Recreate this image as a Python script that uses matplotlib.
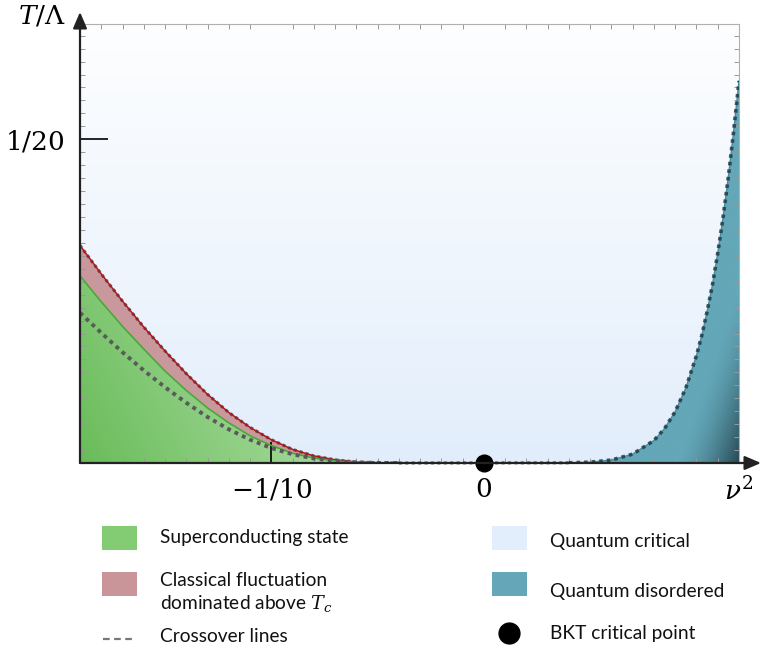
import numpy as np
import matplotlib
matplotlib.use("Agg")
import matplotlib.pyplot as plt
from matplotlib.patches import Rectangle
from matplotlib.lines import Line2D
from matplotlib.colors import to_rgb

plt.rcParams["mathtext.fontset"] = "dejavuserif"
plt.rcParams["font.family"] = ["Lato", "DejaVu Sans"]

# Phase boundaries, T/Lambda against nu^2
nu_left = [-0.19, -0.18, -0.17, -0.16, -0.15, -0.14, -0.13, -0.12,
           -0.11, -0.10, -0.09, -0.08, -0.07, -0.06, -0.05, -0.04]
t_classical = [0.0336, 0.0292, 0.0250, 0.0210, 0.0173, 0.0138, 0.0106, 0.0078,
               0.0055, 0.0036, 0.0021, 0.0011, 0.0005, 0.00015, 0.00003, 0.0]
t_sc = [0.0289, 0.0249, 0.0211, 0.0176, 0.0142, 0.0112, 0.0085, 0.0062,
        0.0042, 0.0027, 0.0015, 0.00076, 0.00031, 0.00009, 0.00002, 0.0]
t_cross_sc = [0.0232, 0.0201, 0.0171, 0.0143, 0.0117, 0.0093, 0.0071, 0.0052,
              0.0036, 0.0023, 0.00135, 0.00069, 0.00029, 0.00009, 0.00002, 0.0]

nu_right = [0.04, 0.05, 0.06, 0.07, 0.08, 0.085, 0.09, 0.095, 0.10,
            0.1025, 0.105, 0.1075, 0.11, 0.1125, 0.115, 0.1175, 0.12]
t_disordered = [0.00003, 0.00013, 0.00046, 0.00137, 0.00348, 0.00532, 0.00794,
                0.0116, 0.0166, 0.0197, 0.0234, 0.0275, 0.0324, 0.0379,
                0.0442, 0.0513, 0.0590]

bkt_nu, bkt_t = 0.0, 0.0

x_ticks = [-0.1, 0.0, 0.12]
x_ticklabels = [r"$-1/10$", r"$0$", r"$\nu^2$"]
y_ticks = [0.05]
y_ticklabels = [r"$1/20$"]

XMIN, XMAX, YMAX = -0.19, 0.12, 0.0678

W, H = 762, 654
fig = plt.figure(figsize=(W / 100, H / 100), dpi=100)
ax = fig.add_axes([80 / W, 191 / H, 659 / W, 439 / H])


def mix(c1, c2, t):
    c1, c2 = np.array(to_rgb(c1)), np.array(to_rgb(c2))
    return c1 + (c2 - c1) * t[..., None]


# quantum critical background: white at the top, pale blue at the bottom
gy = np.linspace(0, 1, 200)[:, None] * np.ones((1, 4))
ax.imshow(mix("#e1edfb", "#fdfeff", gy ** 0.9), extent=[XMIN, XMAX, 0, YMAX],
          origin="lower", aspect="auto", zorder=0)

# superconducting region with a diagonal green shade
gx, gt = np.meshgrid(np.linspace(XMIN, -0.03, 300), np.linspace(0, 0.035, 200))
shade = np.clip(0.75 * (gx - XMIN) / 0.10 + 0.35 * gt / 0.03, 0, 1)
sc_poly = ax.fill_between(nu_left, 0, t_sc, facecolor="none", edgecolor="none")
im = ax.imshow(mix("#69bc59", "#acdda3", shade), extent=[XMIN, -0.03, 0, 0.035],
               origin="lower", aspect="auto", zorder=1, interpolation="bilinear")
im.set_clip_path(sc_poly.get_paths()[0], transform=ax.transData)

# classical fluctuation band above T_c
ax.fill_between(nu_left, t_sc, t_classical, facecolor="#c9989c",
                edgecolor="none", zorder=1)

# quantum disordered region, darkening towards the corner
dx, dt = np.meshgrid(np.linspace(0.03, XMAX, 300), np.linspace(0, 0.06, 300))
dark = np.clip((dx - 0.090) / 0.030 - dt / 0.028, 0, 1) ** 1.6
qd_poly = ax.fill_between(nu_right, 0, t_disordered, facecolor="none", edgecolor="none")
im2 = ax.imshow(mix("#63a7b8", "#1f3c47", dark * 0.9), extent=[0.03, XMAX, 0, 0.06],
                origin="lower", aspect="auto", zorder=1, interpolation="bilinear")
im2.set_clip_path(qd_poly.get_paths()[0], transform=ax.transData)

# boundary lines
ax.plot(nu_left, t_classical, color="#333333", lw=2.2, ls=(0, (1, 1)), alpha=0.75, zorder=3)
ax.plot(nu_left, t_classical, color="#b3141a", lw=1.1, zorder=4)
ax.plot(nu_left, t_sc, color="#4aa838", lw=1.2, zorder=4)
ax.plot(nu_left, t_cross_sc, color="#5a5a5a", lw=2.8, ls=(0, (1, 1.1)), zorder=4)
ax.plot([nu_left[-1], nu_right[0]], [t_cross_sc[-1], t_disordered[0]],
        color="#5a5a5a", lw=2.2, ls=(0, (1, 1.1)), zorder=4, clip_on=False)
ax.plot(nu_right, t_disordered, color="#3d8fa5", lw=1.0, zorder=4)
ax.plot(nu_right, t_disordered, color="#263a42", lw=2.6, ls=(0, (1, 1.1)),
        alpha=0.85, zorder=5)

# BKT critical point
ax.plot([bkt_nu], [bkt_t], "o", color="black", ms=12, zorder=10, clip_on=False)

ax.set_xlim(XMIN, XMAX)
ax.set_ylim(0, YMAX)

# frame: light top/right, axes drawn as arrows
for side in ("top", "right"):
    ax.spines[side].set_color("#b0b0b0")
    ax.spines[side].set_linewidth(0.8)
for side in ("bottom", "left"):
    ax.spines[side].set_visible(False)
arrow = dict(arrowstyle="-|>,head_length=0.7,head_width=0.3", color="#222222",
             lw=1.6, mutation_scale=14, shrinkA=0, shrinkB=0)
ax.annotate("", xy=((W - 1 - 80) / 659, 0), xytext=(0, 0), xycoords="axes fraction",
            arrowprops=arrow, annotation_clip=False, zorder=12)
ax.annotate("", xy=(0, (463 - 12) / 439), xytext=(0, 0), xycoords="axes fraction",
            arrowprops=arrow, annotation_clip=False, zorder=12)

ax.set_xticks(x_ticks, labels=x_ticklabels)
ax.set_xticks(np.arange(-19, 13) / 100, minor=True)
ax.set_yticks(y_ticks, labels=y_ticklabels)
ax.set_yticks(np.arange(1, 34) * 0.002, minor=True)
ax.tick_params(axis="x", which="major", direction="in", length=15, width=1.2,
               color="black", pad=10, labelsize=19)
ax.tick_params(axis="y", which="major", direction="in", length=20, width=1.2,
               color="black", pad=11, labelsize=19)
ax.tick_params(which="minor", direction="in", length=3.5, width=0.7, color="#999999",
               top=True, right=True)
for tk in ax.xaxis.get_major_ticks()[1:]:
    tk.tick1line.set_visible(False)

fig.text(42 / W, 1 - 16 / H, r"$T/\Lambda$", fontsize=19, ha="center", va="center")

# legend drawn in pixel coordinates below the diagram
lg = fig.add_axes([0, 0, 1, 1], zorder=-1)
lg.set_xlim(0, W)
lg.set_ylim(H, 0)
lg.axis("off")

def swatch(x, y, color):
    lg.add_patch(Rectangle((x, y), 35, 24, facecolor=color, edgecolor="none"))

fs = 13.8
swatch(102, 526, "#84cc74")
lg.text(160, 537, "Superconducting state", fontsize=fs, va="center", color="#111111")
swatch(102, 572, "#c99599")
lg.text(160, 580, "Classical fluctuation", fontsize=fs, va="center", color="#111111")
lg.text(160, 604, r"dominated above $T_c$", fontsize=fs, va="center", color="#111111")
lg.add_line(Line2D([103, 136], [639, 639], color="#777777", lw=1.6, ls=(0, (3, 2))))
lg.text(160, 636, "Crossover lines", fontsize=fs, va="center", color="#111111")

swatch(492, 526, "#e3eefc")
lg.text(550, 541, "Quantum critical", fontsize=fs, va="center", color="#111111")
swatch(492, 572, "#65a7b9")
lg.text(550, 591, "Quantum disordered", fontsize=fs, va="center", color="#111111")
lg.plot([509], [633], "o", color="black", ms=15)
lg.text(550, 633, "BKT critical point", fontsize=fs, va="center", color="#111111")

fig.savefig("out.png", dpi=100)
